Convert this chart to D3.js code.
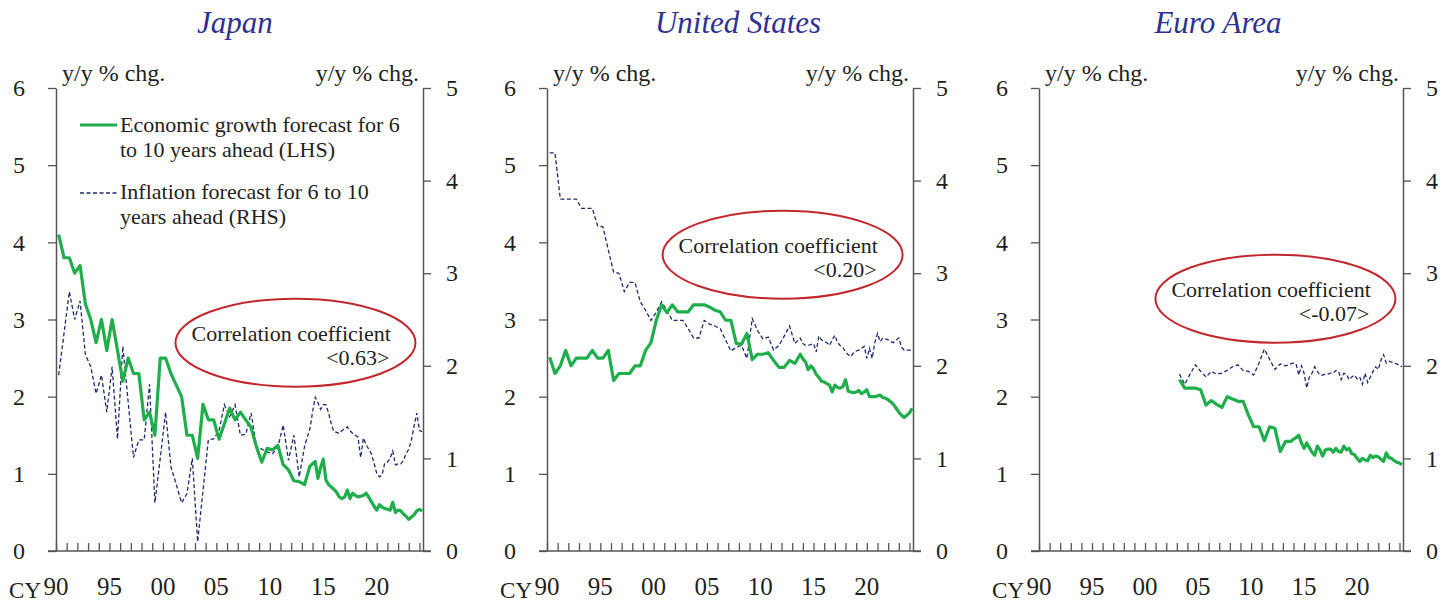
<!DOCTYPE html>
<html>
<head>
<meta charset="utf-8">
<script src="https://cdn.jsdelivr.net/npm/d3@7"></script>
<style>
  body { margin: 0; background: #fff; }
  text { font-family: "Liberation Serif", "Times New Roman", serif; fill: #231f20; }
</style>
</head>
<body>
<svg id="chart" width="1456" height="604"></svg>
<script>
// survey dates: semiannual (Apr/Oct) up to 2013, quarterly from 2014
var semiDates = d3.range(1990.25, 2014, 0.5);
var qtrDates = d3.range(2014, 2024.3, 0.25);
var euSemiDates = d3.range(2003.25, 2014, 0.5);

var yearTicks = d3.range(1990, 2025);
var yearLabels = [1990, 1995, 2000, 2005, 2010, 2015, 2020];
var yearText = ["90", "95", "00", "05", "10", "15", "20"];
var leftTicks = [0, 1, 2, 3, 4, 5, 6];
var rightTicks = [0, 1, 2, 3, 4, 5];

// Japan
var jpGrowth = [4.1,3.8,3.8,3.6,3.7,3.2,3.0,2.7,3.0,2.6,3.0,2.6,2.2,2.5,2.3,2.3,1.7,1.8,1.5,2.5,
  2.5,2.3,2.15,2.0,1.5,1.5,1.2,1.9,1.7,1.7,1.45,1.65,1.85,1.7,1.8,1.7,1.6,1.35,1.15,1.33,
  1.31,1.37,1.12,1.05,0.91,0.9,0.86,1.1,
  1.13,1.16,0.94,1.08,1.19,0.92,0.86,0.83,0.8,0.76,0.7,0.68,0.7,0.79,0.68,0.75,0.72,0.7,0.71,0.72,
  0.75,0.7,0.64,0.58,0.53,0.6,0.57,0.55,0.54,0.53,0.63,0.5,0.53,0.52,0.48,0.45,0.41,0.44,0.47,0.52,
  0.54,0.52];
var jpInfl = [1.90,2.35,2.80,2.50,2.70,2.12,1.99,1.70,1.90,1.50,1.99,1.21,2.21,1.61,1.01,1.20,1.20,1.80,0.52,1.00,
  1.50,0.91,0.72,0.52,0.62,1.00,0.10,0.65,1.20,1.21,1.30,1.58,1.45,1.58,1.25,1.26,1.49,1.13,1.10,1.07,
  1.05,1.12,1.36,0.98,1.25,0.80,1.13,1.32,
  1.50,1.66,1.60,1.53,1.58,1.58,1.49,1.37,1.29,1.28,1.27,1.30,1.32,1.34,1.30,1.27,1.25,1.23,1.01,1.22,
  1.15,1.10,1.05,0.95,0.84,0.80,0.82,0.95,0.96,1.00,1.08,0.93,0.94,0.94,0.98,1.05,1.10,1.20,1.35,1.49,
  1.30,1.29];

// United States
var usGrowth = [2.51,2.30,2.40,2.60,2.40,2.50,2.50,2.50,2.60,2.50,2.50,2.60,2.21,2.30,2.30,2.30,2.40,2.40,2.60,2.70,
  2.99,3.19,3.09,3.19,3.10,3.10,3.10,3.19,3.19,3.19,3.16,3.12,3.10,2.99,2.99,2.69,2.68,2.82,2.48,2.55,
  2.55,2.57,2.47,2.38,2.38,2.47,2.43,2.55,
  2.49,2.45,2.35,2.40,2.36,2.29,2.25,2.20,2.19,2.17,2.15,2.06,2.15,2.12,2.11,2.13,2.22,2.07,2.06,2.05,
  2.06,2.08,2.04,2.06,2.09,2.00,2.00,2.00,2.01,2.02,1.99,1.98,1.96,1.93,1.90,1.85,1.80,1.76,1.73,1.76,
  1.79,1.85];
var usInfl = [4.30,4.30,3.80,3.80,3.80,3.80,3.70,3.70,3.70,3.51,3.50,3.25,3.01,3.00,2.80,2.90,2.90,2.69,2.60,2.49,
  2.58,2.69,2.60,2.49,2.49,2.49,2.40,2.30,2.30,2.49,2.45,2.43,2.40,2.28,2.16,2.20,2.22,2.08,2.51,2.38,
  2.29,2.31,2.17,2.22,2.32,2.43,2.24,2.30,
  2.24,2.22,2.22,2.23,2.24,2.15,2.32,2.28,2.26,2.25,2.22,2.28,2.33,2.25,2.22,2.20,2.15,2.12,2.10,2.14,
  2.16,2.17,2.19,2.21,2.08,2.19,2.08,2.25,2.35,2.26,2.30,2.29,2.28,2.26,2.25,2.28,2.30,2.20,2.17,2.17,
  2.17,2.17];

// Euro Area (from 2003)
var euGrowth = [2.22,2.11,2.11,2.11,2.09,1.89,1.95,1.90,1.86,2.00,1.97,1.94,1.94,1.76,1.61,1.61,1.43,1.61,1.59,1.29,
  1.42,1.42,
  1.45,1.47,1.50,1.40,1.33,1.40,1.34,1.28,1.24,1.36,1.31,1.23,1.31,1.32,1.32,1.28,1.33,1.29,1.28,1.36,
  1.31,1.33,1.26,1.25,1.20,1.16,1.20,1.18,1.17,1.24,1.21,1.23,1.22,1.19,1.16,1.27,1.21,1.20,1.17,1.15,
  1.14,1.12];
var euInfl = [1.91,1.80,1.91,2.01,1.94,1.88,1.94,1.91,1.92,1.95,1.99,2.01,1.95,1.94,1.90,2.03,2.18,2.07,1.96,2.02,
  2.00,2.02,
  2.03,2.02,1.90,2.00,1.92,1.76,1.88,1.92,1.99,1.94,1.90,1.90,1.91,1.91,1.92,1.92,1.95,1.94,1.85,1.92,
  1.91,1.85,1.88,1.90,1.86,1.88,1.80,1.92,1.82,1.88,1.94,1.99,1.96,2.06,2.12,2.03,2.05,2.04,2.03,2.02,
  2.00,1.99];

var panels = [
  {title: "Japan", titleX: 235, left: 56, right: 423, dates: semiDates.concat(qtrDates),
   growth: jpGrowth, infl: jpInfl, corr: "<0.63>", ell: [2012.4, 2.70], legend: true},
  {title: "United States", titleX: 738, left: 547, right: 913, dates: semiDates.concat(qtrDates),
   growth: usGrowth, infl: usInfl, corr: "<0.20>", ell: [2012.1, 3.84]},
  {title: "Euro Area", titleX: 1218, left: 1039, right: 1403, dates: euSemiDates.concat(qtrDates),
   growth: euGrowth, infl: euInfl, corr: "<-0.07>", ell: [2012.3, 3.27]}
];

var plotTop = 88, plotBottom = 551;
var svg = d3.select("#chart");
var axisColor = "#555";

panels.forEach(drawPanel);

function drawPanel(p){
  var x = d3.scaleLinear().domain([1990, 2024.33]).range([p.left, p.right]);
  var yL = d3.scaleLinear().domain([0, 6]).range([plotBottom, plotTop]);
  var yR = d3.scaleLinear().domain([0, 5]).range([plotBottom, plotTop]);
  var g = svg.append("g");

  g.append("text")
    .attr("x", p.titleX).attr("y", 33)
    .attr("text-anchor", "middle")
    .style("font-size", "31px").style("font-style", "italic")
    .style("fill", "#2e3192")
    .text(p.title);

  // left axis
  var la = g.append("g").attr("transform", "translate(" + p.left + ",0)")
    .call(d3.axisLeft(yL).tickValues(leftTicks).tickSize(8).tickPadding(23).tickSizeOuter(0)
      .tickFormat(d3.format("d")));
  // right axis
  var ra = g.append("g").attr("transform", "translate(" + p.right + ",0)")
    .call(d3.axisRight(yR).tickValues(rightTicks).tickSize(8).tickPadding(15).tickSizeOuter(0)
      .tickFormat(d3.format("d")));
  [la, ra].forEach(function(a){
    a.select(".domain").attr("stroke", axisColor).attr("stroke-width", 1.5);
    a.selectAll(".tick line").attr("stroke", axisColor).attr("stroke-width", 1.3);
    a.selectAll(".tick text").style("font-size", "24px").attr("fill", "#231f20");
  });

  // bottom baseline with inward year ticks
  var ba = g.append("g").attr("transform", "translate(0," + plotBottom + ")")
    .call(d3.axisBottom(x).tickValues(yearTicks).tickSize(-8).tickFormat("").tickSizeOuter(0));
  ba.select(".domain").remove();
  ba.selectAll(".tick line").attr("stroke", axisColor).attr("stroke-width", 1.3);
  g.append("line")
    .attr("x1", p.left - 8).attr("x2", p.right + 8)
    .attr("y1", plotBottom).attr("y2", plotBottom)
    .attr("stroke", axisColor).attr("stroke-width", 1.5);

  g.selectAll(".yearLabel")
    .data(yearLabels)
    .enter().append("text")
      .attr("class", "yearLabel")
      .attr("x", function(d){ return x(d); })
      .attr("y", 595)
      .attr("text-anchor", "middle")
      .style("font-size", "25px")
      .text(function(d, i){ return yearText[i]; });
  g.append("text")
    .attr("x", x(1990) - 15).attr("y", 598)
    .attr("text-anchor", "end")
    .style("font-size", "23px")
    .text("CY");

  // unit labels
  g.append("text")
    .attr("x", p.left + 6).attr("y", 81)
    .style("font-size", "24px")
    .text("y/y % chg.");
  g.append("text")
    .attr("x", p.right - 4).attr("y", 81)
    .attr("text-anchor", "end")
    .style("font-size", "24px")
    .text("y/y % chg.");

  // lines
  var inflLine = d3.line()
    .x(function(d, i){ return x(p.dates[i]); })
    .y(function(d){ return yR(d); });
  var growthLine = d3.line()
    .x(function(d, i){ return x(p.dates[i]); })
    .y(function(d){ return yL(d); });

  g.append("path")
    .attr("d", inflLine(p.infl))
    .attr("fill", "none")
    .attr("stroke", "#1f2a6b")
    .attr("stroke-width", 1.3)
    .attr("stroke-dasharray", "4,2.5");
  g.append("path")
    .attr("d", growthLine(p.growth))
    .attr("fill", "none")
    .attr("stroke", "#1fae4b")
    .attr("stroke-width", 3.2)
    .attr("stroke-linejoin", "round");

  // correlation annotation
  var cx = x(p.ell[0]), cy = yL(p.ell[1]);
  g.append("ellipse")
    .attr("cx", cx).attr("cy", cy)
    .attr("rx", 120).attr("ry", 44)
    .attr("fill", "none")
    .attr("stroke", "#c1272d")
    .attr("stroke-width", 2);
  g.append("text")
    .attr("x", cx - 104).attr("y", cy - 2)
    .style("font-size", "22px")
    .text("Correlation coefficient");
  g.append("text")
    .attr("x", cx + 94).attr("y", cy + 22)
    .attr("text-anchor", "end")
    .style("font-size", "22px")
    .text(p.corr);

  if(p.legend) createLegend(g);
}

function createLegend(g){
  var legend = g.append("g").attr("class", "legend");
  legend.append("line")
    .attr("x1", 80).attr("x2", 117).attr("y1", 125).attr("y2", 125)
    .attr("stroke", "#1fae4b").attr("stroke-width", 3.2);
  legend.append("line")
    .attr("x1", 80).attr("x2", 117).attr("y1", 193).attr("y2", 193)
    .attr("stroke", "#1f2a6b").attr("stroke-width", 1.3)
    .attr("stroke-dasharray", "4,2.5");
  var rows = [
    {t: "Economic growth forecast for 6", y: 132},
    {t: "to 10 years ahead (LHS)", y: 157},
    {t: "Inflation forecast for 6 to 10", y: 199},
    {t: "years ahead (RHS)", y: 224}
  ];
  legend.selectAll(".legendText")
    .data(rows)
    .enter().append("text")
      .attr("class", "legendText")
      .attr("x", 120)
      .attr("y", function(d){ return d.y; })
      .style("font-size", "22px")
      .text(function(d){ return d.t; });
}
</script>
</body>
</html>
